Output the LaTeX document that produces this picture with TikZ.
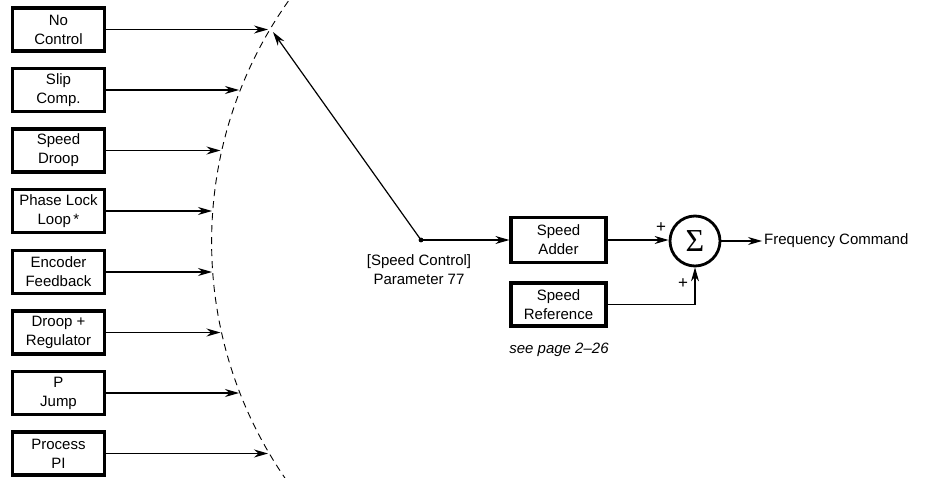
\documentclass[tikz,border=0pt]{standalone}
\usepackage{fontspec}
\setmainfont{Liberation Sans}
\newfontfamily\sigfont{Liberation Serif}
\usetikzlibrary{arrows.meta,calc}
\begin{document}
\begin{tikzpicture}[x=1pt,y=1pt,
  font=\fontsize{15}{19}\selectfont,
  blk/.style={draw, line width=3.2pt, minimum width=92pt, minimum height=43pt, inner sep=1pt, align=center},
  arr/.style={line width=1.2pt, -{Stealth[length=14pt,width=8pt,inset=4.5pt]}},
  lbl/.style={inner sep=0pt}]
\useasboundingbox (0,0) rectangle (925,-478);
% left blocks
\node[blk] (b1) at (58.5,-29.5) {No\\Control};
\node[blk] (b2) at (58.5,-90) {Slip\\Comp.};
\node[blk] (b3) at (58.5,-150.5) {Speed\\Droop};
\node[blk] (b4) at (58.5,-211) {Phase Lock\\Loop\,*};
\node[blk] (b5) at (58.5,-272) {Encoder\\Feedback};
\node[blk] (b6) at (58.5,-332.5) {Droop +\\Regulator};
\node[blk] (b7) at (58.5,-393) {P\\Jump};
\node[blk] (b8) at (58.5,-453.5) {Process\\PI};
% dashed arc
\coordinate (ac) at (628,-242);
\draw[line width=0.9pt, dash pattern=on 7pt off 5pt] (ac) ++(143:416.4) arc[start angle=143, end angle=217, radius=416.4];
% arrow end points on the arc
\coordinate (e1) at (268,-29.5);
\coordinate (e2) at (239,-90);
\coordinate (e3) at (220.5,-150.5);
\coordinate (e4) at (212,-211);
\coordinate (e5) at (212,-272);
\coordinate (e6) at (220.5,-332.5);
\coordinate (e7) at (239,-393);
\coordinate (e8) at (268,-453.5);
\foreach \i in {1,...,8} {\draw[arr] (b\i.east) -- (e\i);}
% switch
\coordinate (sw) at (273,-32);
\fill (421,-240) circle (2.4pt) coordinate (dot);
\draw[arr] (dot) -- (sw);
\node[lbl, align=center] (pl) at (419,-270) {[Speed Control]\\Parameter 77};
% right part
\node[blk, minimum width=95pt, minimum height=45pt] (add) at (558.5,-240) {Speed\\Adder};
\node[blk, minimum width=95pt, minimum height=43pt] (ref) at (558.5,-304.5) {Speed\\Reference};
\node[lbl, font=\fontsize{15}{18}\selectfont\itshape] (see) at (559,-350) {see page 2–26};
\draw[arr] (dot) -- (add.west);
\node[draw, circle, line width=2.8pt, minimum size=50pt, inner sep=0pt] (sum) at (695,-241) {\sigfont\fontsize{32}{32}\selectfont\raisebox{-1pt}{Σ}};
\draw[arr] (add.east) -- (sum.west |- add.east);
\draw[arr] (ref.east) -| (sum.south);
\node[lbl, font=\fontsize{17}{17}\selectfont] (p1) at (661,-228) {+};
\node[lbl, font=\fontsize{17}{17}\selectfont] (p2) at (683,-284) {+};
\node[anchor=west, inner sep=2pt] (fc) at (762,-241) {Frequency Command};
\draw[arr] (sum.east) -- (fc.west);
\end{tikzpicture}
\end{document}
